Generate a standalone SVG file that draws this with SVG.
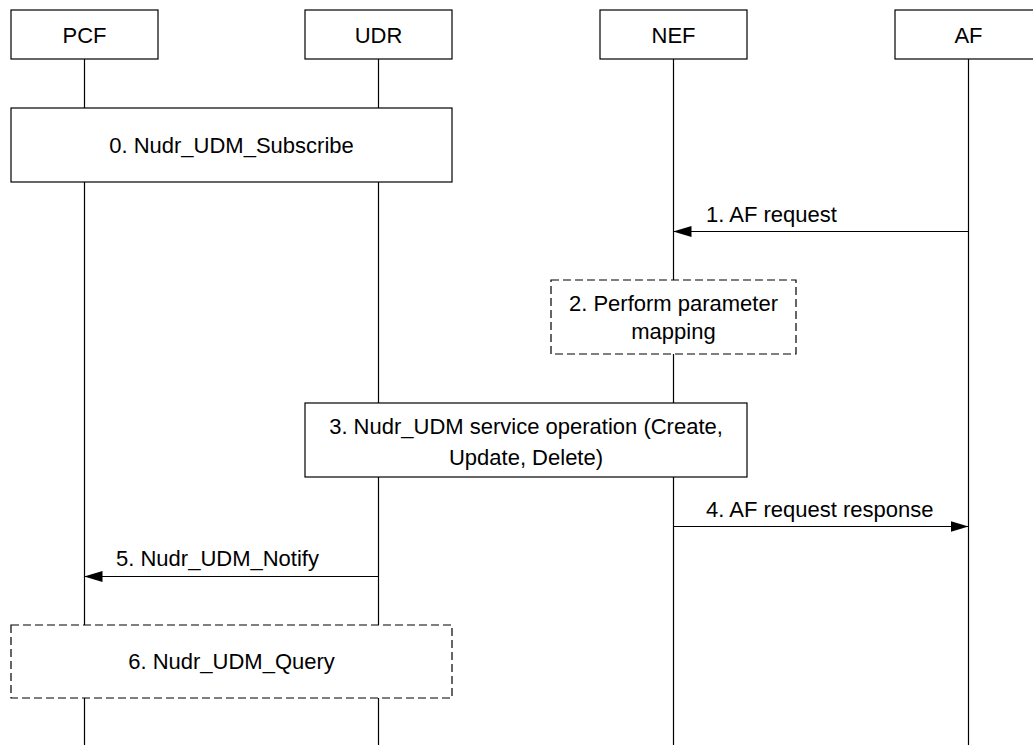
<svg xmlns="http://www.w3.org/2000/svg" width="1033" height="745" viewBox="0 0 1033 745">
<style>
.box{fill:#fff;stroke:#000;stroke-width:1.2}
.dash{fill:#fff;stroke:#000;stroke-width:1.2;stroke-dasharray:8 4}
.life{stroke:#000;stroke-width:1.2;fill:none}
.msg{stroke:#000;stroke-width:1.2;fill:none}
text{font-family:"Liberation Sans",Arial,sans-serif;font-size:22px;fill:#000}
.c{text-anchor:middle}
</style>
<defs>
<marker id="ah" markerWidth="18" markerHeight="11" refX="18" refY="5.5" orient="auto" markerUnits="userSpaceOnUse">
<path d="M0,0 L18,5.5 L0,11 Z" fill="#000"/>
</marker>
</defs>
<rect width="1033" height="745" fill="#fff"/>
<g id="lifelines">
<line class="life" x1="84.5" y1="59" x2="84.5" y2="745"/>
<line class="life" x1="378.5" y1="59" x2="378.5" y2="745"/>
<line class="life" x1="673.5" y1="59" x2="673.5" y2="745"/>
<line class="life" x1="968.5" y1="59" x2="968.5" y2="745"/>
</g>
<g id="PCF"><rect class="box" x="11" y="10" width="147" height="49"/><text class="c" x="84.5" y="43">PCF</text></g>
<g id="UDR"><rect class="box" x="305" y="10" width="147" height="49"/><text class="c" x="378.5" y="43">UDR</text></g>
<g id="NEF"><rect class="box" x="600" y="10" width="147" height="49"/><text class="c" x="673.5" y="43">NEF</text></g>
<g id="AF"><rect class="box" x="895" y="10" width="147" height="49"/><text class="c" x="968.5" y="43">AF</text></g>
<g id="step0"><rect class="box" x="11" y="108" width="441" height="74"/><text class="c" x="231.5" y="153">0. Nudr_UDM_Subscribe</text></g>
<g id="step2"><rect class="dash" x="551" y="280" width="245" height="74"/><text class="c" x="673.5" y="311">2. Perform parameter</text><text class="c" x="673.5" y="339">mapping</text></g>
<g id="step3"><rect class="box" x="305" y="403" width="442" height="74"/><text class="c" x="526" y="434">3. Nudr_UDM service operation (Create,</text><text class="c" x="526" y="465">Update, Delete)</text></g>
<g id="step6"><rect class="dash" x="11" y="625" width="441" height="73"/><text class="c" x="231.5" y="669">6. Nudr_UDM_Query</text></g>
<g id="connectors">
<line class="msg" x1="968.5" y1="231.5" x2="673.5" y2="231.5" marker-end="url(#ah)"/>
<text x="706" y="222">1. AF request</text>
<line class="msg" x1="673.5" y1="526.5" x2="968.5" y2="526.5" marker-end="url(#ah)"/>
<text x="706" y="517">4. AF request response</text>
<line class="msg" x1="378.5" y1="576.5" x2="84.5" y2="576.5" marker-end="url(#ah)"/>
<text x="116" y="566">5. Nudr_UDM_Notify</text>
</g>
</svg>
